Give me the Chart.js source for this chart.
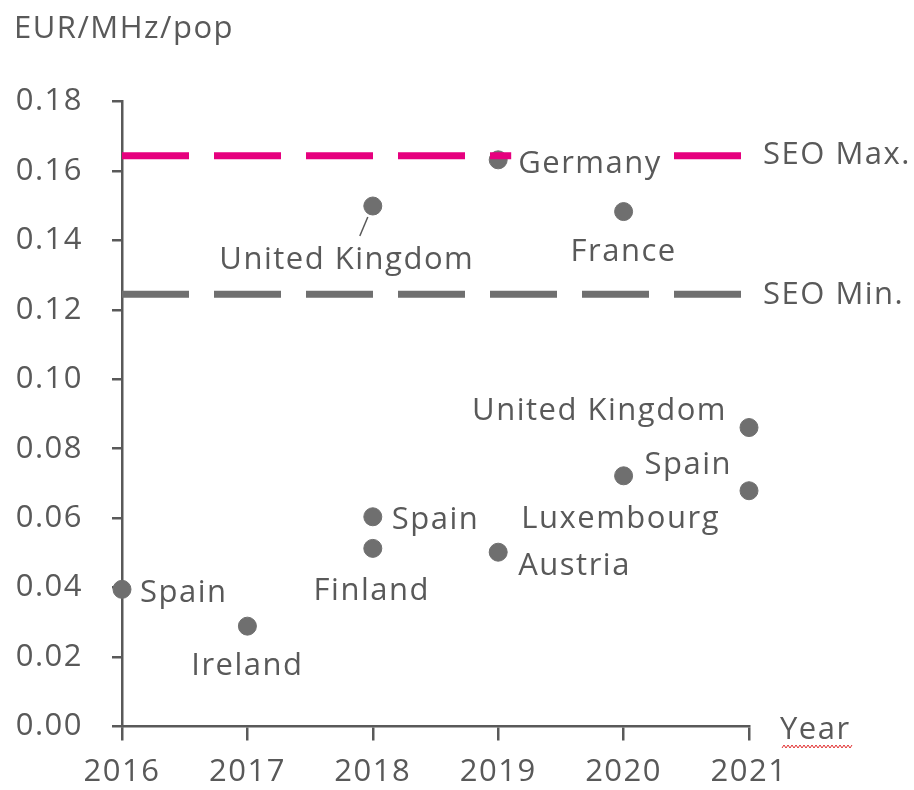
<!DOCTYPE html>
<html>
<head>
<meta charset="utf-8">
<script src="https://cdn.jsdelivr.net/npm/chart.js@4.4.1/dist/chart.umd.min.js"></script>
<style>
  html, body { margin: 0; padding: 0; background: #fff; }
  #wrap { width: 914px; height: 790px; }
</style>
</head>
<body>
<div id="wrap"><canvas id="myChart" width="914" height="790"></canvas></div>
<script>
// Auction prices per year (EUR/MHz/pop)
const years = [2016, 2017, 2018, 2018, 2018, 2019, 2019, 2020, 2020, 2021, 2021];
const countries = ['Spain', 'Ireland', 'United Kingdom', 'Spain', 'Finland', 'Germany', 'Austria', 'France', 'Spain', 'United Kingdom', 'Luxembourg'];
const prices = [0.0395, 0.0289, 0.1499, 0.0604, 0.0513, 0.1632, 0.0502, 0.1483, 0.0722, 0.0861, 0.0679];

// SEO range
const seoMax = 0.1644;
const seoMin = 0.1245;
const seoLabels = ['SEO Max.', 'SEO Min.'];

// Axis ticks
const yearTicks = [2016, 2017, 2018, 2019, 2020, 2021];
const yTicks = [0, 0.02, 0.04, 0.06, 0.08, 0.10, 0.12, 0.14, 0.16, 0.18];

const textColor = '#595959';
const dotColor = '#6f6f6f';
const fontFamily = '"Open Sans", sans-serif';
const fontSize = 31;
const spacing = '1.5px';

// where each country label sits relative to its dot
const labelPlace = [
    { dx: 18, dy: 13, align: 'left' },
    { dx: 0, dy: 49, align: 'center' },
    { dx: -26, dy: 63, align: 'center', leader: true },
    { dx: 19, dy: 12, align: 'left' },
    { dx: -1, dy: 52, align: 'center' },
    { dx: 20, dy: 13, align: 'left', box: true },
    { dx: 20, dy: 23, align: 'left' },
    { dx: 0, dy: 49, align: 'center' },
    { dx: 21, dy: -2, align: 'left' },
    { dx: -22, dy: -8, align: 'right' },
    { dx: -29, dy: 37, align: 'right' }
];

// letter spacing for every text the chart draws
const spacingPlugin = {
    id: 'spacing',
    beforeInit(chart) { chart.ctx.letterSpacing = spacing; },
    beforeDraw(chart) { chart.ctx.letterSpacing = spacing; }
};

const labelPlugin = {
    id: 'labels',
    afterDatasetsDraw(chart) {
        const ctx = chart.ctx;
        const xs = chart.scales.x, ys = chart.scales.y;
        ctx.save();
        ctx.letterSpacing = spacing;
        ctx.font = fontSize + 'px ' + fontFamily;
        ctx.textBaseline = 'alphabetic';
        countries.forEach((name, i) => {
            const px = xs.getPixelForValue(years[i]);
            const py = ys.getPixelForValue(prices[i]);
            const p = labelPlace[i];
            ctx.textAlign = p.align;
            if (p.box) {
                const w = ctx.measureText(name).width;
                ctx.fillStyle = '#fff';
                ctx.fillRect(px + p.dx - 7, py + p.dy - 30, w + 12, 38);
            }
            ctx.fillStyle = textColor;
            ctx.fillText(name, px + p.dx, py + p.dy);
            if (p.leader) {
                ctx.strokeStyle = textColor;
                ctx.lineWidth = 1.5;
                ctx.beginPath();
                ctx.moveTo(px - 5, py + 11);
                ctx.lineTo(px - 13, py + 30);
                ctx.stroke();
            }
        });
        // SEO labels at the right end of the lines
        ctx.textAlign = 'left';
        ctx.fillStyle = textColor;
        const right = xs.getPixelForValue(2021);
        ctx.fillText(seoLabels[0], right + 14, ys.getPixelForValue(seoMax) + 8);
        ctx.fillText(seoLabels[1], right + 14, ys.getPixelForValue(seoMin) + 10);
        // unit and axis name
        ctx.fillText('EUR/MHz/pop', 14, 38);
        ctx.fillText('Year', 780, ys.getPixelForValue(0) + 12);
        // red spell-check squiggle under "Year"
        ctx.strokeStyle = '#e03030';
        ctx.lineWidth = 1;
        ctx.beginPath();
        const sy = ys.getPixelForValue(0) + 20;
        for (let x = 782, k = 0; x <= 852; x += 2, k++) {
            const y = sy + (k % 2 ? -1.5 : 1.5);
            if (k === 0) ctx.moveTo(x, y); else ctx.lineTo(x, y);
        }
        ctx.stroke();
        ctx.restore();
    }
};

const ctx = document.getElementById('myChart').getContext('2d');
new Chart(ctx, {
    type: 'scatter',
    data: {
        datasets: [
            {
                type: 'line',
                data: [{ x: yearTicks[0], y: seoMax }, { x: yearTicks[yearTicks.length - 1], y: seoMax }],
                borderColor: '#e6007e',
                borderWidth: 7,
                borderDash: [67, 25],
                pointRadius: 0,
                order: 1
            },
            {
                type: 'line',
                data: [{ x: yearTicks[0], y: seoMin }, { x: yearTicks[yearTicks.length - 1], y: seoMin }],
                borderColor: '#6f6f6f',
                borderWidth: 7,
                borderDash: [67, 25],
                pointRadius: 0,
                order: 1
            },
            {
                data: years.map((y, i) => ({ x: y, y: prices[i] })),
                backgroundColor: dotColor,
                borderColor: dotColor,
                pointRadius: 9,
                order: 2
            }
        ]
    },
    options: {
        responsive: false,
        animation: false,
        clip: false,
        layout: { padding: { left: 0, top: 101.5, right: 165, bottom: 0 } },
        plugins: { legend: { display: false }, tooltip: { enabled: false } },
        scales: {
            x: {
                type: 'linear',
                min: yearTicks[0],
                max: yearTicks[yearTicks.length - 1],
                afterBuildTicks: s => { s.ticks = yearTicks.map(v => ({ value: v })); },
                afterFit: s => { s.height = 63.5; },
                border: { color: textColor, width: 2.5 },
                grid: { drawOnChartArea: false, drawTicks: true, tickLength: 14, color: textColor, lineWidth: 2.5 },
                ticks: {
                    color: textColor,
                    font: { family: fontFamily, size: fontSize },
                    padding: 13,
                    maxRotation: 0,
                    callback: v => String(v)
                }
            },
            y: {
                min: 0,
                max: 0.18,
                afterBuildTicks: s => { s.ticks = yTicks.map(v => ({ value: v })); },
                afterFit: s => { s.width = 122; },
                border: { color: textColor, width: 2.5 },
                grid: { drawOnChartArea: false, drawTicks: true, tickLength: 10, color: textColor, lineWidth: 2.5 },
                ticks: {
                    color: textColor,
                    font: { family: fontFamily, size: fontSize },
                    padding: 29,
                    callback: v => v.toFixed(2)
                }
            }
        }
    },
    plugins: [spacingPlugin, labelPlugin]
});
</script>
</body>
</html>
